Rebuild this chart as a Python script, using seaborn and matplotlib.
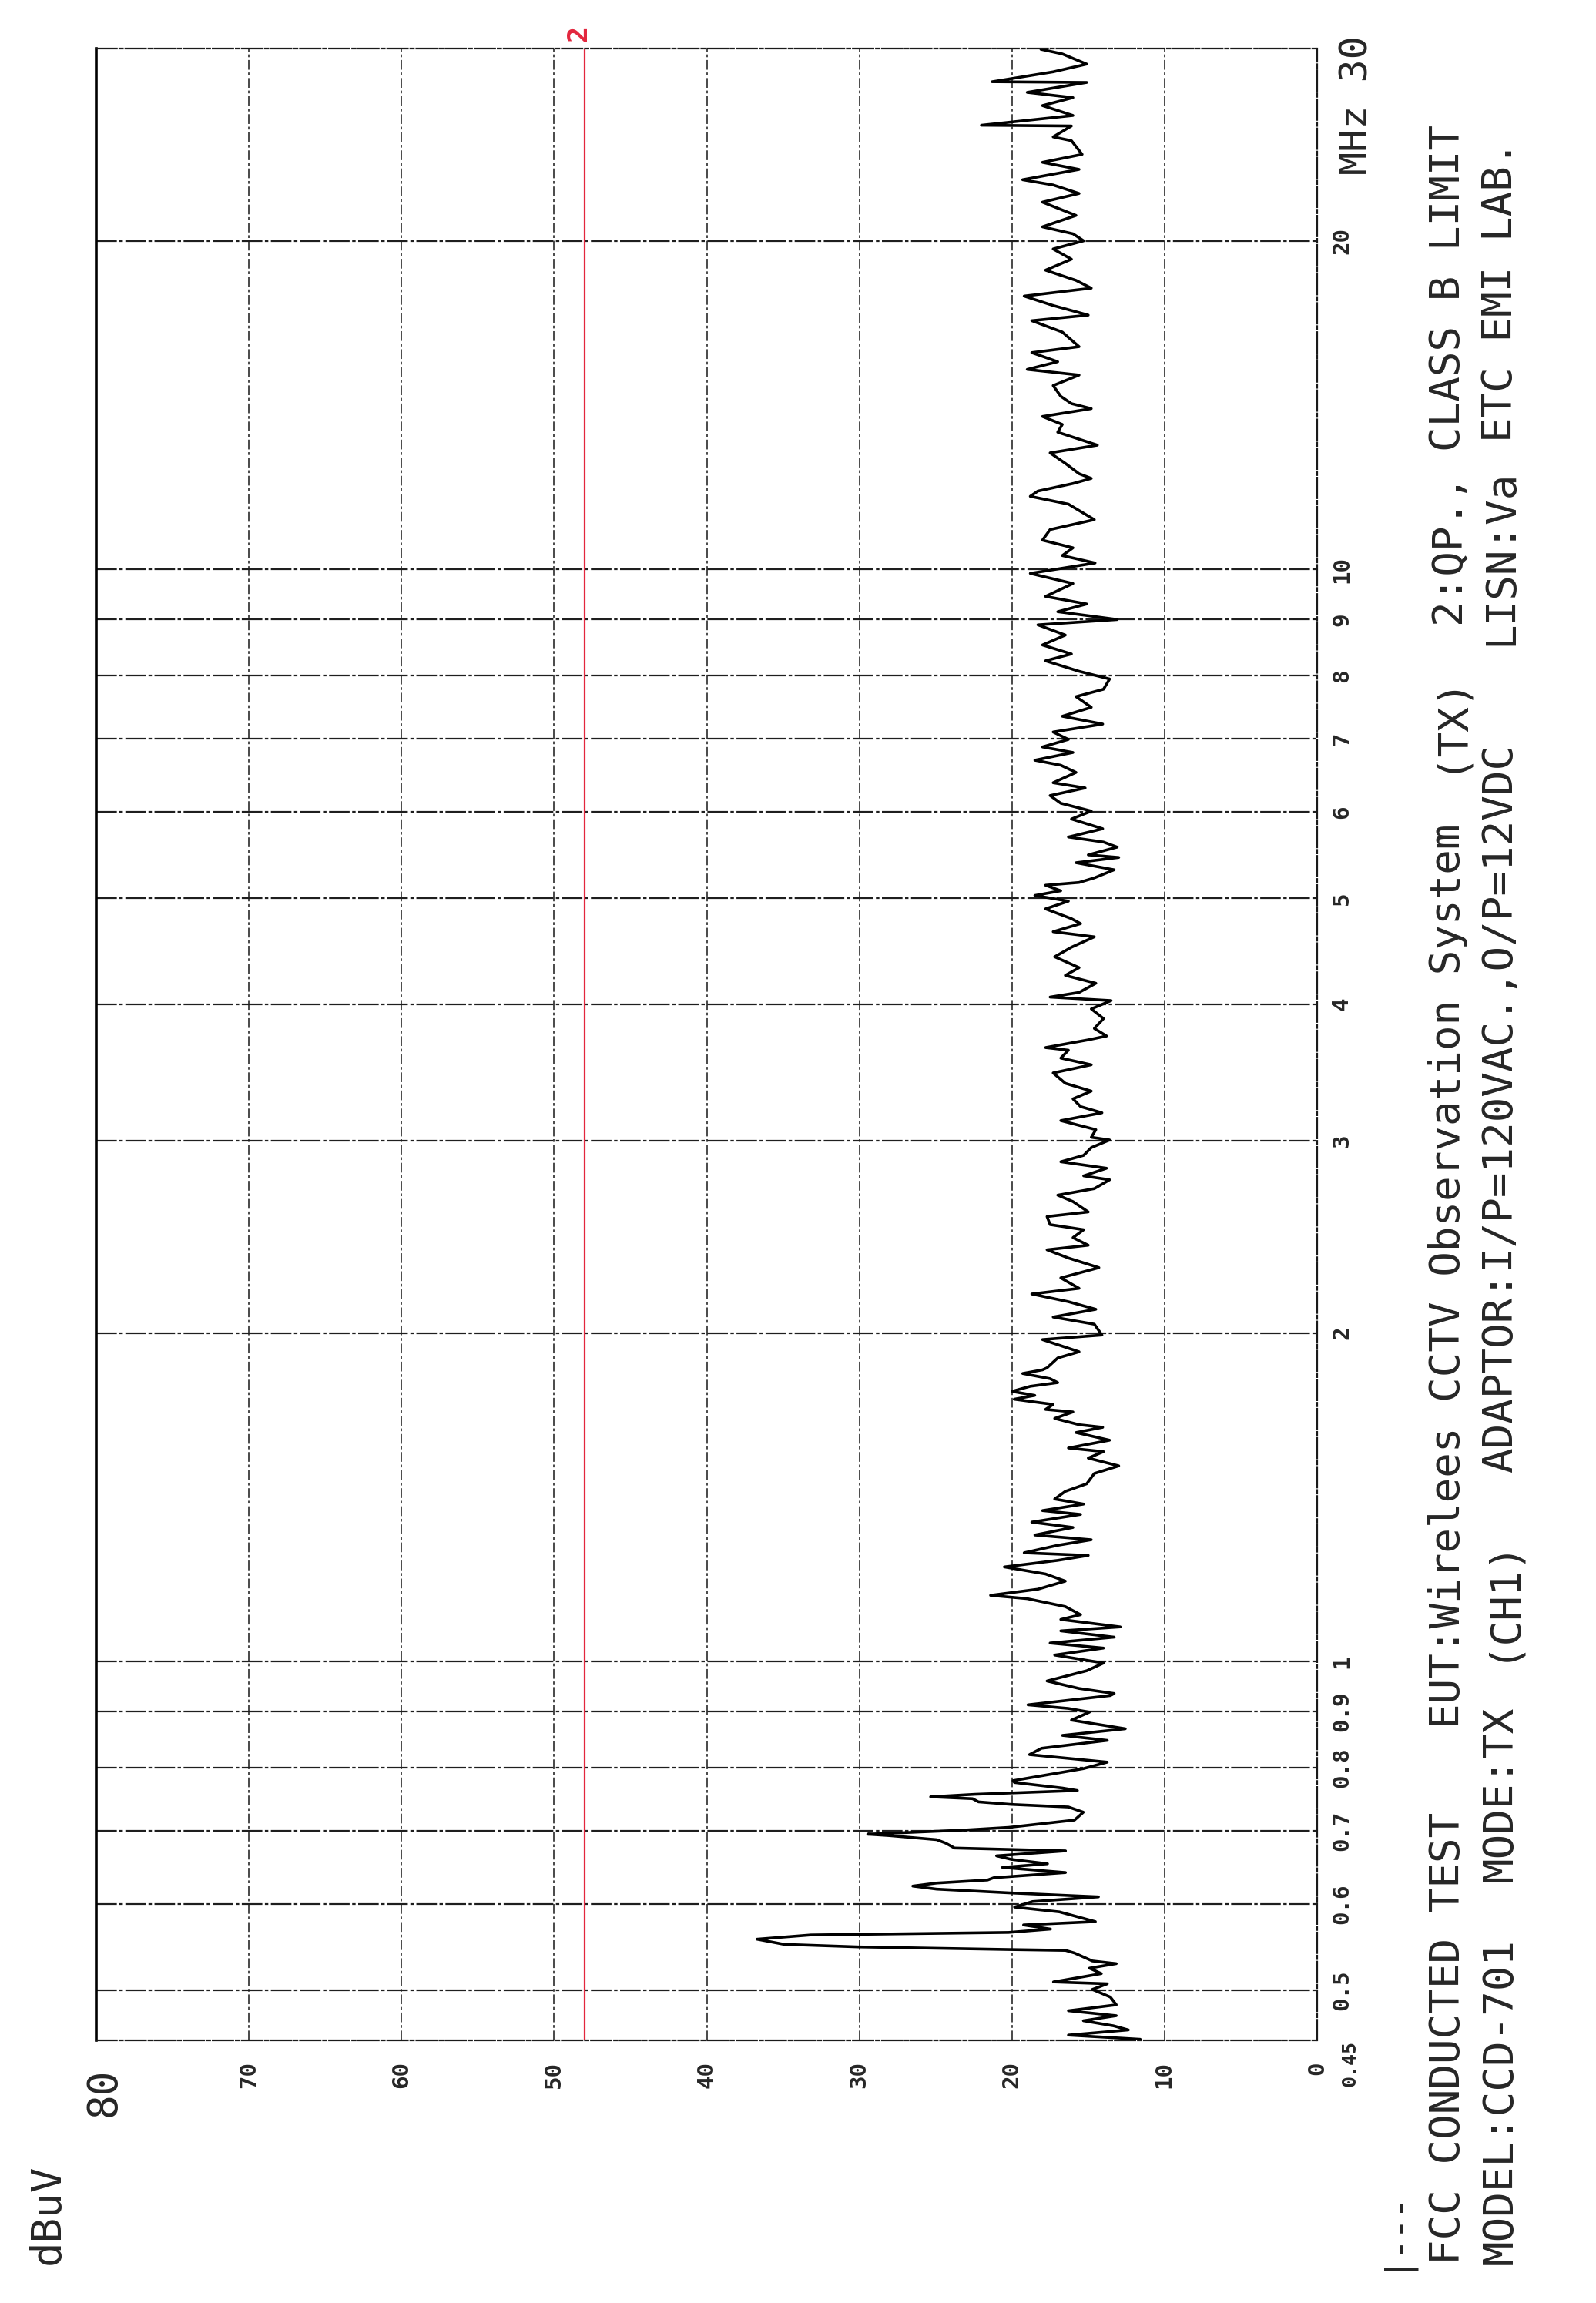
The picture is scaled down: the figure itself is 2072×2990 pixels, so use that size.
import matplotlib
matplotlib.use("Agg")
import matplotlib.pyplot as plt
import seaborn as sns
import pandas as pd

# ---------------- data ----------------
# 30 MHz .. 15 MHz
freq_a = [29.95, 29.66, 29.03, 28.56, 27.97, 27.93, 27.35, 27.05, 26.60, 26.05,
          25.52, 25.48, 24.90, 24.70, 24.00, 23.60, 23.25, 22.75, 22.50, 22.10,
          21.70, 21.10, 20.60, 20.30, 20.00, 19.66, 19.24, 18.80, 18.40, 18.10,
          17.80, 17.45, 17.10, 16.90, 16.50, 16.00, 15.80, 15.50, 15.25]
level_a = [18.1, 16.7, 15.1, 17.3, 21.3, 15.1, 19.0, 16.0, 18.0, 16.0,
           22.0, 16.1, 17.3, 16.1, 15.4, 18.0, 15.6, 19.3, 17.3, 15.6,
           18.0, 15.8, 18.0, 16.0, 15.3, 17.3, 16.1, 17.8, 15.8, 14.8,
           19.2, 17.3, 15.0, 18.7, 16.7, 15.6, 18.7, 17.0, 19.0]
# 15 MHz .. 7.5 MHz
freq_b = [15.07, 14.74, 14.41, 14.19, 14.04, 13.81, 13.58, 13.36, 13.00, 12.79,
          12.51, 12.24, 12.12, 11.99, 11.80, 11.67, 11.48, 11.11, 10.88, 10.64,
          10.47, 10.30, 10.14, 9.92, 9.71, 9.45, 9.30, 9.15, 9.00, 8.90,
          8.71, 8.53, 8.37, 8.25, 8.07, 7.94, 7.77, 7.65, 7.48]
level_b = [15.6, 17.3, 16.8, 16.1, 14.8, 18.0, 16.7, 17.0, 14.4, 17.5,
           16.5, 15.6, 14.8, 16.0, 18.3, 18.8, 16.3, 14.6, 17.5, 18.0,
           16.0, 16.7, 14.55, 18.8, 16.0, 17.8, 15.1, 17.0, 13.1, 18.3,
           16.5, 18.0, 16.1, 17.8, 15.6, 13.6, 14.0, 15.8, 14.8]
# 7.5 MHz .. 3.7 MHz
freq_c = [7.34, 7.22, 7.10, 6.99, 6.88, 6.80, 6.69, 6.62, 6.52, 6.38,
          6.31, 6.21, 6.11, 6.01, 5.91, 5.79, 5.69, 5.63, 5.57, 5.48,
          5.45, 5.39, 5.31, 5.22, 5.17, 5.14, 5.08, 5.03, 4.97, 4.89,
          4.79, 4.74, 4.66, 4.61, 4.51, 4.42, 4.32, 4.25, 4.18, 4.10,
          4.06, 4.03, 3.96, 3.88, 3.80, 3.74]
level_c = [16.7, 14.05, 17.3, 16.3, 18.0, 16.0, 18.5, 16.8, 15.8, 17.3,
           15.2, 17.5, 16.8, 14.8, 16.1, 14.05, 16.3, 14.0, 13.1, 15.0,
           13.0, 15.8, 13.3, 14.6, 15.6, 17.8, 16.8, 18.5, 16.3, 17.8,
           16.1, 15.5, 17.3, 14.6, 16.1, 17.2, 15.6, 16.5, 14.5, 15.6,
           17.5, 13.5, 14.8, 14.0, 14.6, 13.8]
# 3.7 MHz .. 1.86 MHz
freq_d = [3.71, 3.65, 3.63, 3.57, 3.52, 3.46, 3.385, 3.33, 3.276, 3.223,
          3.181, 3.129, 3.07, 3.021, 3.004, 2.956, 2.908, 2.869, 2.83, 2.785,
          2.762, 2.711, 2.674, 2.638, 2.581, 2.556, 2.513, 2.486, 2.445, 2.406,
          2.383, 2.342, 2.295, 2.246, 2.197, 2.171, 2.136, 2.102, 2.068, 2.037,
          1.991, 1.972, 1.922, 1.897, 1.858]
level_d = [15.0, 17.8, 16.3, 16.8, 14.8, 17.3, 16.5, 14.8, 16.0, 15.5,
           14.1, 16.8, 14.5, 14.8, 13.6, 14.8, 15.3, 16.8, 13.8, 15.3,
           13.6, 14.6, 17.0, 16.0, 15.0, 17.7, 17.5, 15.3, 16.0, 15.0,
           17.7, 16.3, 14.3, 16.8, 15.6, 18.7, 16.3, 14.5, 17.3, 14.6,
           14.1, 18.0, 15.6, 17.0, 17.7]
# 1.85 MHz .. 0.935 MHz
freq_e = [1.850, 1.836, 1.816, 1.801, 1.787, 1.768, 1.753, 1.739, 1.720, 1.702,
          1.693, 1.670, 1.648, 1.639, 1.621, 1.595, 1.569, 1.557, 1.536, 1.511,
          1.487, 1.455, 1.432, 1.409, 1.394, 1.375, 1.364, 1.342, 1.327, 1.306,
          1.293, 1.278, 1.258, 1.251, 1.238, 1.221, 1.203, 1.185, 1.165, 1.150,
          1.142, 1.123, 1.104, 1.093, 1.076, 1.067, 1.053, 1.040, 1.029, 1.014,
          0.997, 0.981, 0.960, 0.945, 0.935]
level_e = [18.0, 19.3, 17.5, 17.0, 18.8, 20.0, 18.5, 19.85, 17.3, 17.8,
           16.0, 17.2, 15.6, 14.05, 15.8, 13.6, 16.3, 14.0, 15.0, 13.0,
           14.6, 15.1, 16.5, 17.2, 15.3, 18.0, 15.5, 18.7, 16.0, 18.5,
           14.8, 17.0, 19.2, 15.0, 17.0, 20.5, 17.8, 16.5, 18.3, 21.4,
           19.0, 16.5, 15.5, 16.8, 12.9, 16.8, 13.3, 17.5, 14.0, 17.2,
           14.0, 15.1, 17.7, 15.6, 13.3]
# 0.93 MHz .. 0.45 MHz
freq_f = [0.931, 0.913, 0.906, 0.899, 0.884, 0.868, 0.856, 0.847, 0.833, 0.822,
          0.809, 0.798, 0.778, 0.775, 0.766, 0.762, 0.756, 0.752, 0.749, 0.744,
          0.740, 0.736, 0.728, 0.716, 0.705, 0.701, 0.695, 0.693, 0.687, 0.682,
          0.675, 0.673, 0.671, 0.664, 0.659, 0.653, 0.648, 0.641, 0.634, 0.631,
          0.627, 0.623, 0.619, 0.614, 0.609, 0.603, 0.596, 0.590, 0.578, 0.574,
          0.569, 0.565, 0.562, 0.557, 0.551, 0.548, 0.545, 0.544, 0.541, 0.532,
          0.529, 0.524, 0.518, 0.509, 0.507, 0.501, 0.493, 0.485, 0.479, 0.474,
          0.469, 0.464, 0.460, 0.455, 0.451]
level_f = [13.55, 18.95, 16.3, 14.92, 16.1, 12.57, 16.69, 13.75, 18.06, 18.85,
           13.75, 15.32, 19.93, 19.83, 16.69, 15.71, 22.4, 25.33, 22.58, 22.19,
           20.03, 16.3, 15.32, 15.9, 20.22, 23.17, 29.45, 28.07, 24.93, 24.34,
           23.76, 20.22, 16.49, 21.01, 20.03, 17.67, 20.62, 16.49, 21.2, 21.6,
           24.93, 26.5, 24.93, 20.03, 14.33, 18.65, 19.83, 16.89, 14.53, 19.24,
           17.47, 20.22, 33.18, 36.71, 34.94, 30.04, 20.22, 16.49, 15.9, 14.73,
           13.16, 14.92, 14.14, 17.28, 13.75, 14.73, 13.55, 13.16, 16.3, 13.16,
           15.32, 13.35, 12.37, 16.3, 11.59]

limit_dbuv = 48.0
limit_label = "2"

freq_grid = [0.5, 0.6, 0.7, 0.8, 0.9, 1, 2, 3, 4, 5, 6, 7, 8, 9, 10, 20]
freq_tick_values = [0.5, 0.6, 0.7, 0.8, 0.9, 1, 2, 3, 4, 5, 6, 7, 8, 9, 10, 20]
freq_tick_labels = ["0.5", "0.6", "0.7", "0.8", "0.9", "1", "2", "3", "4", "5",
                    "6", "7", "8", "9", "10", "20"]
freq_low_label = "0.45"
freq_high_label = "MHz 30"
db_grid = [10, 20, 30, 40, 50, 60, 70]
db_tick_values = [0, 10, 20, 30, 40, 50, 60, 70]
db_tick_labels = ["0", "10", "20", "30", "40", "50", "60", "70"]
db_top_label = "80"
unit_label = "dBuV"

line1 = [("FCC CONDUCTED TEST", 2940), ("EUT:Wirelees CCTV Observation System", 2244),
         ("(TX)", 1003), ("2:QP.,", 809), ("CLASS B LIMIT", 586)]
line2 = [("MODEL:CCD-701", 2940), ("MODE:TX", 2443), ("(CH1)", 2157),
         ("ADAPTOR:I/P=120VAC.,O/P=12VDC", 1912), ("LISN:Va", 838),
         ("ETC EMI LAB.", 574)]
legend_mark = "|---"

# ---------------- figure ----------------
sns.set_style("white")
plt.rcParams["font.family"] = ["DejaVu Sans Mono", "DejaVu Sans"]

W, H = 2072, 2990
fig = plt.figure(figsize=(W / 100, H / 100), dpi=100)
fig.patch.set_facecolor("white")
L, R, T, B = 125, 1710, 63, 2649
ax = fig.add_axes([L / W, 1 - B / H, (R - L) / W, (B - T) / H])
ax.set_yscale("log")
ax.set_xlim(80, 0)
ax.set_ylim(0.45, 30)

dash_db = (0, (7, 2, 2, 2))
dash_f = (0, (12, 1.5, 2, 1.5))
for v in db_grid:
    ax.axvline(v, color="#3a3a3a", lw=1.3, ls=dash_db, zorder=1)
for f in freq_grid:
    ax.axhline(f, color="#1e1e1e", lw=1.6, ls=dash_f, zorder=1)

ax.axvline(limit_dbuv, color="#e3263d", lw=1.6, zorder=2)

df = pd.DataFrame({
    "freq": freq_a + freq_b + freq_c + freq_d + freq_e + freq_f,
    "level": level_a + level_b + level_c + level_d + level_e + level_f,
})
sns.lineplot(data=df, x="level", y="freq", orient="y", sort=False,
             estimator=None, color="black", linewidth=2.6, ax=ax, zorder=3)

ax.set_xlabel("")
ax.set_ylabel("")
ax.set_xticks([])
ax.set_yticks([])
ax.set_yticks([], minor=True)
ax.tick_params(which="both", length=0)
for s in ["top", "right", "bottom"]:
    ax.spines[s].set_linestyle(dash_f)
    ax.spines[s].set_linewidth(1.6)
    ax.spines[s].set_color("#1a1a1a")
ax.spines["left"].set_linewidth(2.6)
ax.spines["left"].set_color("black")

# frequency labels (right side)
ytr = ax.get_yaxis_transform()
xfrac = (1728 - L) / (R - L)
for v, s in zip(freq_tick_values, freq_tick_labels):
    ax.text(xfrac, v, s, transform=ytr, rotation=90, ha="left", va="center",
            fontsize=21, fontweight="bold")
ax.text((1740 - L) / (R - L), 0.45, freq_low_label, transform=ytr, rotation=90,
        ha="left", va="top", fontsize=18, fontweight="bold")
ax.annotate(freq_high_label, xy=((1738 - L) / (R - L), 30), xycoords=ytr,
            xytext=(0, 17), textcoords="offset pixels", rotation=90,
            ha="left", va="top", fontsize=36)

# level labels (bottom)
xtr = ax.get_xaxis_transform()
yfrac = -(2676 - B) / (B - T)
for v, s in zip(db_tick_values, db_tick_labels):
    ax.text(v, yfrac, s, transform=xtr, rotation=90, ha="center", va="top",
            fontsize=21, fontweight="bold")
ax.annotate(db_top_label, xy=(80, 0), xycoords=xtr, xytext=(10, -36),
            textcoords="offset pixels", rotation=90, ha="center", va="top",
            fontsize=38)

# limit marker
ax.annotate(limit_label, xy=(limit_dbuv, 1), xycoords=xtr, xytext=(-8, 20),
            textcoords="offset pixels", rotation=90, ha="center", va="center",
            fontsize=25, fontweight="bold", color="#e3263d")

# caption lines
fs = 39
for s, yb in line1:
    fig.text(1880 / W, 1 - yb / H, s, rotation=90, ha="center", va="bottom", fontsize=fs)
for s, yb in line2:
    fig.text(1948 / W, 1 - yb / H, s, rotation=90, ha="center", va="bottom", fontsize=fs)
fig.text(1808 / W, 1 - 2948 / H, legend_mark, rotation=90, ha="center", va="bottom",
         fontsize=32)
fig.text(62 / W, 1 - 2940 / H, unit_label, rotation=90, ha="center", va="bottom", fontsize=fs)

fig.savefig("out.png", dpi=100, facecolor="white")
